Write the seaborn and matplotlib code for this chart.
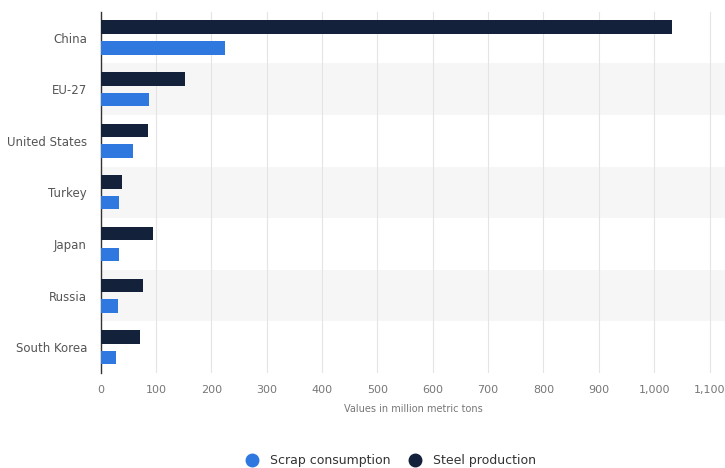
import matplotlib
matplotlib.use("Agg")
import matplotlib.pyplot as plt
from matplotlib.lines import Line2D
import seaborn as sns
import pandas as pd

countries = ["China", "EU-27", "United States", "Turkey", "Japan", "Russia", "South Korea"]
steel_production = [1032, 152, 85, 39, 95, 77, 70]
scrap_consumption = [224, 87, 58, 33, 33, 32, 28]
series_names = ["Scrap consumption", "Steel production"]
x_ticks = [0, 100, 200, 300, 400, 500, 600, 700, 800, 900, 1000, 1100]
x_label = "Values in million metric tons"

colors = {"Scrap consumption": "#2f78e0", "Steel production": "#14213a"}

df = pd.DataFrame({
    "country": countries * 2,
    "value": steel_production + scrap_consumption,
    "series": ["Steel production"] * len(countries) + ["Scrap consumption"] * len(countries),
})

sns.set_style("white")
plt.rcParams["font.family"] = ["DejaVu Sans"]

fig = plt.figure(figsize=(7.25, 4.68), dpi=100)
ax = fig.add_axes([0.139, 0.203, 0.861, 0.772])

for i in range(len(countries)):
    if i % 2 == 1:
        ax.axhspan(i - 0.5, i + 0.5, color="#f6f6f6", zorder=0, lw=0)

sns.barplot(data=df, y="country", x="value", hue="series", order=countries,
            hue_order=["Steel production", "Scrap consumption"], palette=colors,
            width=0.8, gap=0.35, orient="h", ax=ax, legend=False, zorder=3,
            edgecolor="none", saturation=1)

ax.set_xlim(0, 1128)
ax.set_ylim(len(countries) - 0.5, -0.5)
ax.set_xticks(x_ticks)
ax.set_xticklabels([f"{t:,}" for t in x_ticks], color="#777777", fontsize=8)
ax.tick_params(axis="y", labelsize=8.5, labelcolor="#555555", length=0, pad=10)
ax.tick_params(axis="x", length=0, pad=9)
ax.xaxis.grid(True, color="#e4e4e4", lw=0.8, zorder=1)
ax.set_axisbelow(True)
ax.set_xlabel(x_label, fontsize=7, color="#777777", labelpad=6)
ax.set_ylabel("")
for s in ["top", "right", "bottom"]:
    ax.spines[s].set_visible(False)
ax.spines["left"].set_color("#333333")
ax.spines["left"].set_linewidth(1.0)

handles = [Line2D([0], [0], marker="o", ls="none", markersize=9,
                  markerfacecolor=colors[n], markeredgecolor=colors[n]) for n in series_names]
fig.legend(handles, series_names, loc="lower center", bbox_to_anchor=(0.535, -0.022),
           ncol=2, frameon=False, fontsize=9, handletextpad=0.4, columnspacing=1.0,
           labelcolor="#333333")

fig.savefig("out.png", dpi=100)
